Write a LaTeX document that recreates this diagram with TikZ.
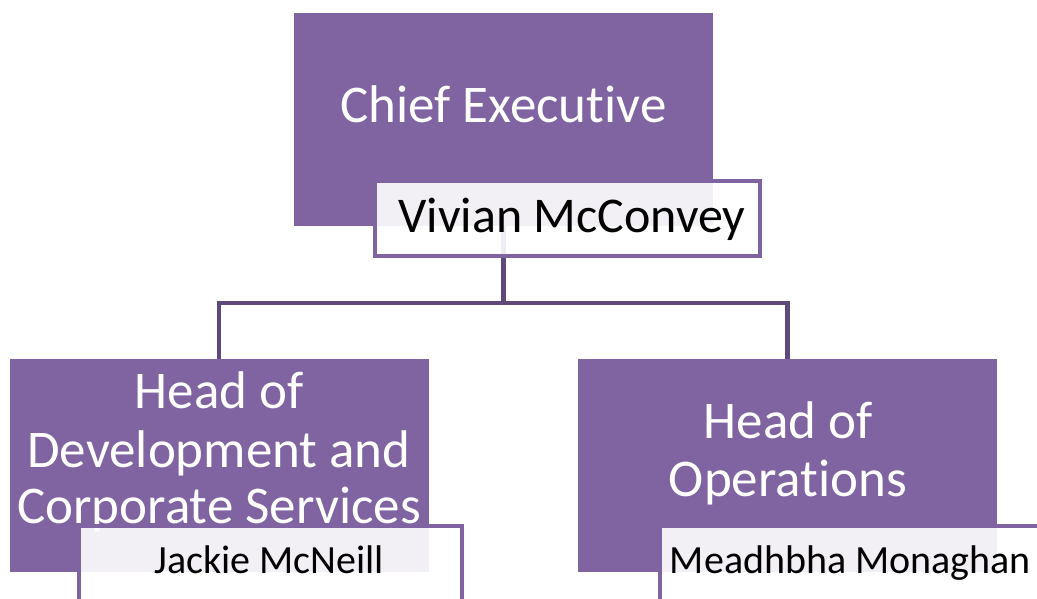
\documentclass[tikz,border=0pt]{standalone}
\usepackage{fontspec}
\setmainfont{Carlito}[Ligatures={NoCommon,NoContextual}]
\definecolor{boxpurple}{RGB}{128,100,162}
\definecolor{linkpurple}{RGB}{95,73,122}
\begin{document}
\begin{tikzpicture}[x=1pt,y=-1pt,
  rolebox/.style={fill=boxpurple, draw=none, inner sep=0pt, minimum width=419pt, minimum height=213pt},
  namebox/.style={fill=white, fill opacity=0.9, draw=boxpurple, draw opacity=1, line width=4pt, inner sep=0pt},
  conn/.style={draw=linkpurple, line width=4.5pt},
  roletext/.style={text=white, font=\fontsize{53}{58}\selectfont, anchor=base, inner sep=0pt},
  nametext/.style={text=black, anchor=base, inner sep=0pt}
]
\useasboundingbox (0,0) rectangle (1037,598);
\clip (0,0) rectangle (1037,598);

% reporting lines
\coordinate (split) at (503.5,303);
\node[rolebox] (ce) at (503.5,119.5) {};
\node[rolebox] (hd) at (219,465.5) {};
\node[rolebox] (ho) at (787.5,465.5) {};
\draw[conn] (ce.center) -- (split) -| (hd.north);
\draw[conn] (split) -| (ho.north);
% redraw the top role box over the line start
\node[rolebox] at (ce) {};

% role titles
\node[roletext] (cet) at (503.5,122) {Chief Executive};
\node[roletext] (hd1) at (219,408) {Head of};
\node[roletext] (hd2) at (219,467) {Development and};
\node[roletext] (hd3) at (219,523) {Corporate Services};
\node[roletext] (ho1) at (788,438) {Head of};
\node[roletext] (ho2) at (788,496) {Operations};

% name plates
\node[namebox, minimum width=385pt, minimum height=75pt] (ceb) at (567.5,218.5) {};
\node[namebox, minimum width=383pt, minimum height=100pt] (hdb) at (270.5,576) {};
\node[namebox, minimum width=400pt, minimum height=100pt] (hob) at (860,576) {};

\node[nametext, font=\fontsize{50}{58}\selectfont] (cen) at (572,232) {Vivian McConvey};
\node[nametext, font=\fontsize{40}{48}\selectfont] (hdn) at (269,573) {Jackie McNeill};
\node[nametext, font=\fontsize{40}{48}\selectfont] (hon) at (850.5,573) {Meadhbha Monaghan};
\end{tikzpicture}
\end{document}
